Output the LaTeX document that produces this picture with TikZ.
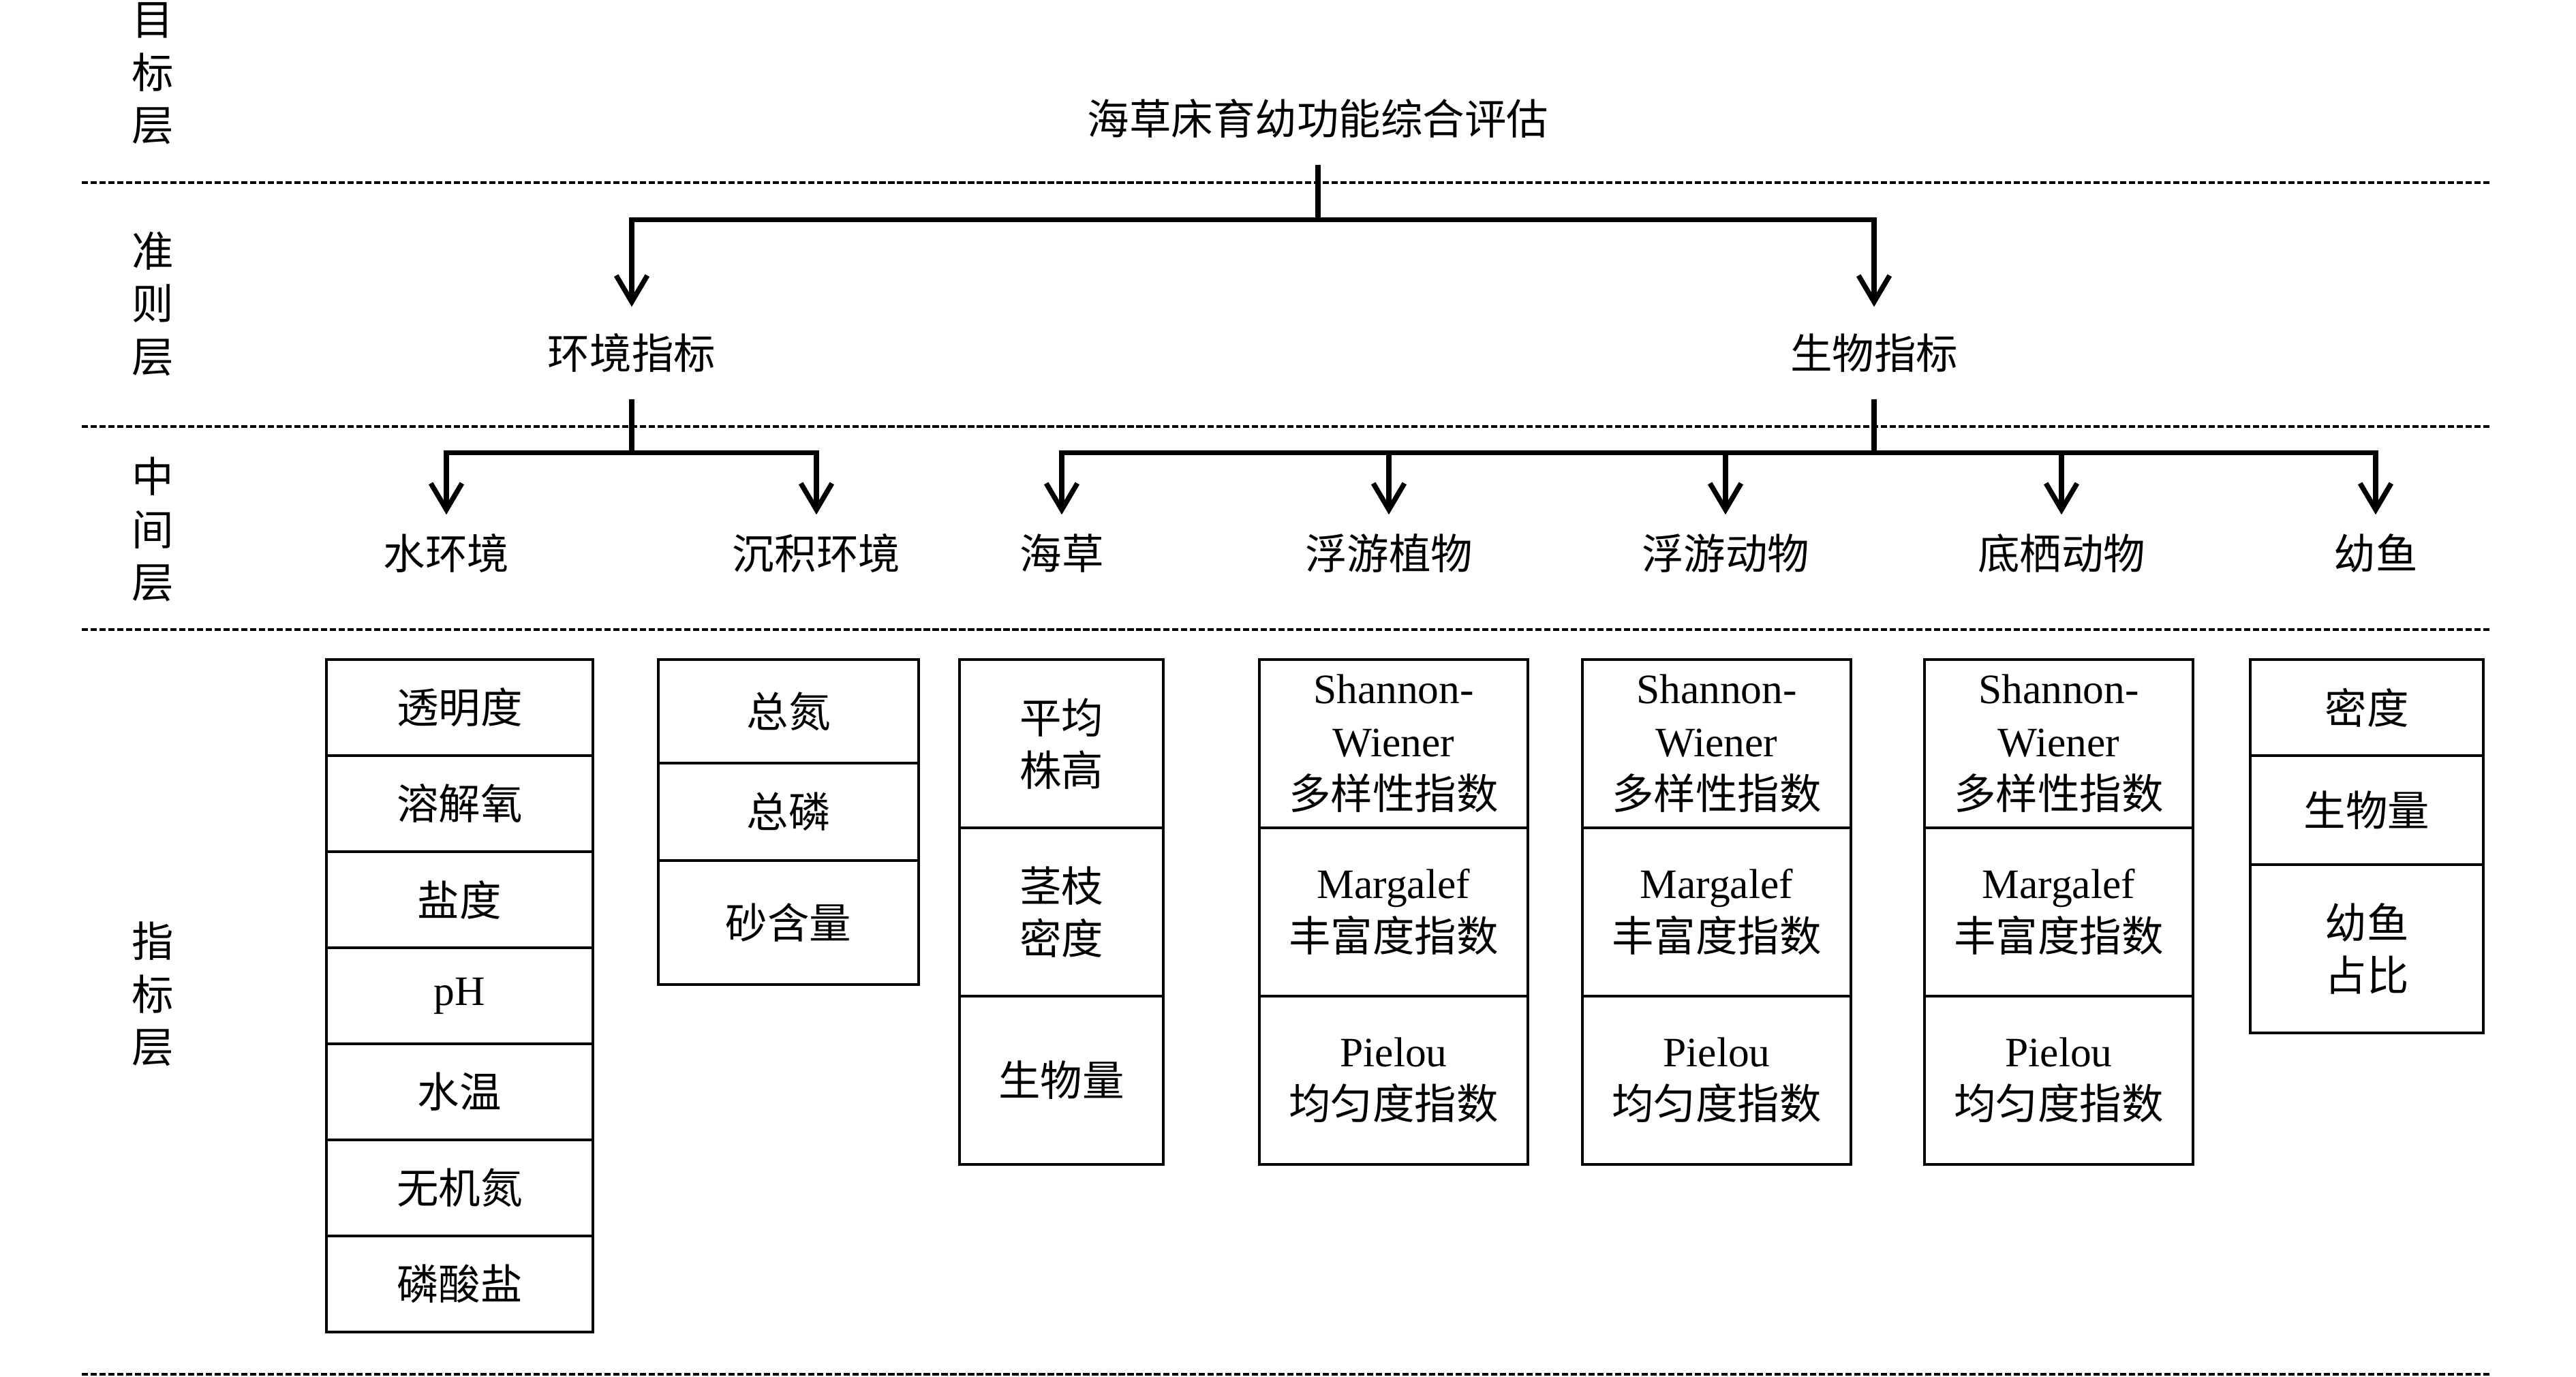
\documentclass[tikz,border=0pt]{standalone}
\usepackage{fontspec}
\setmainfont{Liberation Serif}
\newfontfamily\zhfont{Noto Sans CJK SC}
\usetikzlibrary{arrows.meta,positioning}
\tikzset{link/.style={-{Straight Barb[length=11pt,width=13pt]},line width=2.1pt}}
\tikzset{%
    sep/.style={line width=1.3pt,dash pattern=on 2.6pt off 1.1pt},
    cell/.style={draw,line width=1.3pt,inner sep=0pt,outer sep=0pt,align=center},
}
\tikzstyle{lvl}=[inner sep=0pt, minimum height=1.34cm]
\tikzstyle{mid}=[inner sep=0pt, minimum height=1.12cm]
\tikzstyle{tag}=[align=center, inner sep=0pt]
\newcommand{\en}[1]{{\rmfamily #1}}

\begin{document}
\begin{tikzpicture}[font=\zhfont\fontsize{17.5pt}{22pt}\selectfont]
    \useasboundingbox (0,0) rectangle (37.8,-20.21);
    % layer separators
    \foreach \y in {-2.68,-6.26,-9.24,-20.17}
        \draw[sep] (1.2,\y) -- (36.56,\y);
    % layer names
    \node[tag] (t1) at (2.24,-1.08) {目\\标\\层};
    \node[tag] (t2) at (2.24,-4.46) {准\\则\\层};
    \node[tag] (t3) at (2.24,-7.77) {中\\间\\层};
    \node[tag] (t4) at (2.24,-14.59) {指\\标\\层};
    % goal and criteria
    \node[lvl] (goal) at (19.34,-1.74) {海草床育幼功能综合评估};
    \node[lvl] (env) at (9.27,-5.18) {环境指标};
    \node[lvl] (bio) at (27.50,-5.18) {生物指标};
    % middle level
    \node[mid] (water) at (6.55,-8.12) {水环境};
    \node[mid] (sed) at (11.98,-8.12) {沉积环境};
    \node[mid] (grass) at (15.58,-8.12) {海草};
    \node[mid] (phyto) at (20.38,-8.12) {浮游植物};
    \node[mid] (zoo) at (25.32,-8.12) {浮游动物};
    \node[mid] (benth) at (30.25,-8.12) {底栖动物};
    \node[mid] (fish) at (34.86,-8.12) {幼鱼};
    \draw[link] (goal.south) -- ++(0,-0.81) -| (env.north);
    \draw[link] (goal.south) -- ++(0,-0.81) -| (bio.north);
    \draw[link] (env.south) -- ++(0,-0.79) -| (water.north);
    \draw[link] (env.south) -- ++(0,-0.79) -| (sed.north);
    \foreach \n in {grass,phyto,zoo,benth,fish}
        \draw[link] (bio.south) -- ++(0,-0.79) -| (\n.north);
    % water indicators
    \tikzset{wbox/.style={cell,minimum width=3.91cm,minimum height=1.41cm}}
    \node[wbox,anchor=north west] (w1) at (4.79,-9.68) {透明度};
    \node[wbox,below=0pt of w1] (w2) {溶解氧};
    \node[wbox,below=0pt of w2] (w3) {盐度};
    \node[wbox,below=0pt of w3] (w4) {\en{pH}};
    \node[wbox,below=0pt of w4] (w5) {水温};
    \node[wbox,below=0pt of w5] (w6) {无机氮};
    \node[wbox,below=0pt of w6] (w7) {磷酸盐};
    % sediment indicators
    \tikzset{sbox/.style={cell,minimum width=3.82cm}}
    \node[sbox,minimum height=1.52cm,anchor=north west] (s1) at (9.66,-9.68) {总氮};
    \node[sbox,minimum height=1.43cm,below=0pt of s1] (s2) {总磷};
    \node[sbox,minimum height=1.82cm,below=0pt of s2] (s3) {砂含量};
    % seagrass indicators
    \tikzset{gbox/.style={cell,minimum width=2.99cm,minimum height=2.47cm}}
    \node[gbox,anchor=north west] (g1) at (14.08,-9.68) {平均\\株高};
    \node[gbox,below=0pt of g1] (g2) {茎枝\\密度};
    \node[gbox,below=0pt of g2] (g3) {生物量};
    % community indices
    \tikzset{ibox/.style={cell,minimum width=3.94cm,minimum height=2.47cm}}
    \foreach \c/\x in {p/18.48,z/23.22,b/28.24}{
        \node[ibox,anchor=north west] (\c1) at (\x,-9.68) {\en{Shannon-}\\\en{Wiener}\\多样性指数};
        \node[ibox,below=0pt of \c1] (\c2) {\en{Margalef}\\丰富度指数};
        \node[ibox,below=0pt of \c2] (\c3) {\en{Pielou}\\均匀度指数};
    }
    % juvenile fish indicators
    \tikzset{fbox/.style={cell,minimum width=3.42cm}}
    \node[fbox,minimum height=1.41cm,anchor=north west] (f1) at (33.02,-9.68) {密度};
    \node[fbox,minimum height=1.60cm,below=0pt of f1] (f2) {生物量};
    \node[fbox,minimum height=2.47cm,below=0pt of f2] (f3) {幼鱼\\占比};
\end{tikzpicture}
\end{document}
